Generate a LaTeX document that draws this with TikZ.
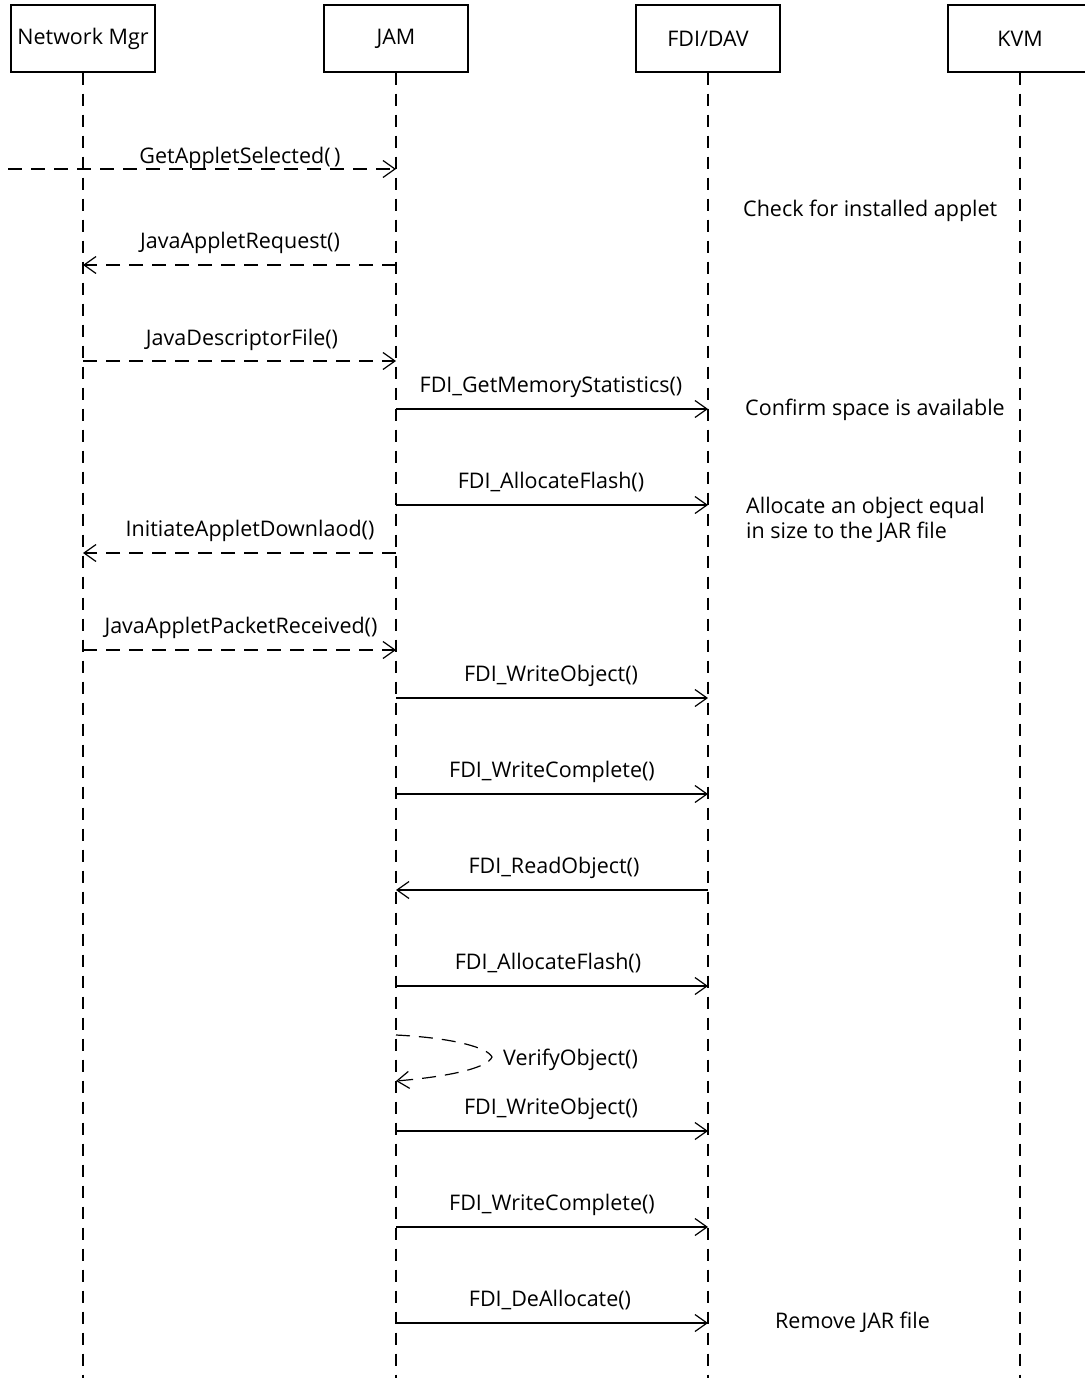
\documentclass[tikz,border=0pt]{standalone}
\usepackage{fontspec}
\setmainfont{Open Sans}
\usetikzlibrary{arrows.meta}
\newcommand\dgfont{\fontsize{21.5}{26}\selectfont}
\begin{document}
\begin{tikzpicture}[x=1pt,y=-1pt,
  every node/.style={font=\dgfont, inner sep=0pt},
  actor/.style={draw, line width=1.2pt, minimum width=144pt, minimum height=67pt},
  lifeline/.style={line width=1.2pt, dash pattern=on 12pt off 9pt},
  call/.style={line width=1.2pt, -{Straight Barb[length=12pt,width=17pt,line width=1.2pt]}},
  reply/.style={call, dash pattern=on 14pt off 9pt},
  msg/.style={anchor=base},
  note/.style={anchor=base west}]
\useasboundingbox (0,0) rectangle (1084,1378);

% participants
\node[actor] (nm)  at (83,38.5)   {Network Mgr};
\node[actor] (jam) at (396,38.5)  {JAM};
\node[actor] (fdi) at (708,38.5)  {FDI/DAV};
\node[actor] (kvm) at (1020,38.5) {KVM};

% lifelines
\foreach \p in {nm,jam,fdi,kvm}
  \draw[lifeline] (\p.south) -- (\p.south |- 0,1378);

% incoming trigger
\coordinate (ext) at (8,169);
\draw[reply] (ext) -- (jam |- 0,169);
\node[msg] (l1) at (240,163) {GetAppletSelected(\,)};

\draw[reply] (jam |- 0,265) -- (nm |- 0,265);
\node[msg] (l2) at (240,248) {JavaAppletRequest()};

\draw[reply] (nm |- 0,361) -- (jam |- 0,361);
\node[msg] (l3) at (242,345) {JavaDescriptorFile()};

\draw[call] (jam |- 0,409) -- (fdi |- 0,409);
\node[msg] (l4) at (551,392) {FDI\_GetMemoryStatistics()};

\draw[call] (jam |- 0,505) -- (fdi |- 0,505);
\node[msg] (l5) at (551,488) {FDI\_AllocateFlash()};

\draw[reply] (jam |- 0,553) -- (nm |- 0,553);
\node[msg] (l6) at (250,536) {InitiateAppletDownlaod()};

\draw[reply] (nm |- 0,650) -- (jam |- 0,650);
\node[msg] (l7) at (241,633) {JavaAppletPacketReceived()};

\draw[call] (jam |- 0,698) -- (fdi |- 0,698);
\node[msg] (l8) at (551,681) {FDI\_WriteObject()};

\draw[call] (jam |- 0,794) -- (fdi |- 0,794);
\node[msg] (l9) at (552,777) {FDI\_WriteComplete()};

\draw[call] (fdi |- 0,890) -- (jam |- 0,890);
\node[msg] (l10) at (554,873) {FDI\_ReadObject()};

\draw[call] (jam |- 0,986) -- (fdi |- 0,986);
\node[msg] (l11) at (548,969) {FDI\_AllocateFlash()};

% self call
\draw[reply] (jam |- 0,1035) .. controls (455,1038) and (488,1048) .. (492,1057)
  .. controls (488,1067) and (455,1076) .. (jam |- 0,1081);
\node[anchor=base west] (l12) at (503,1065) {VerifyObject()};

\draw[call] (jam |- 0,1131) -- (fdi |- 0,1131);
\node[msg] (l13) at (551,1114) {FDI\_WriteObject()};

\draw[call] (jam |- 0,1227) -- (fdi |- 0,1227);
\node[msg] (l14) at (552,1210) {FDI\_WriteComplete()};

\draw[call] (jam |- 0,1323) -- (fdi |- 0,1323);
\node[msg] (l15) at (550,1306) {FDI\_DeAllocate()};

% annotations
\node[note] (n1) at (743,216) {Check for installed applet};
\node[note] (n2) at (745,415) {Confirm space is available};
\node[note] (n3) at (746,513) {Allocate an object equal};
\node[note] (n4) at (746,538) {in size to the JAR file};
\node[note] (n5) at (775,1328) {Remove JAR file};
\end{tikzpicture}
\end{document}
